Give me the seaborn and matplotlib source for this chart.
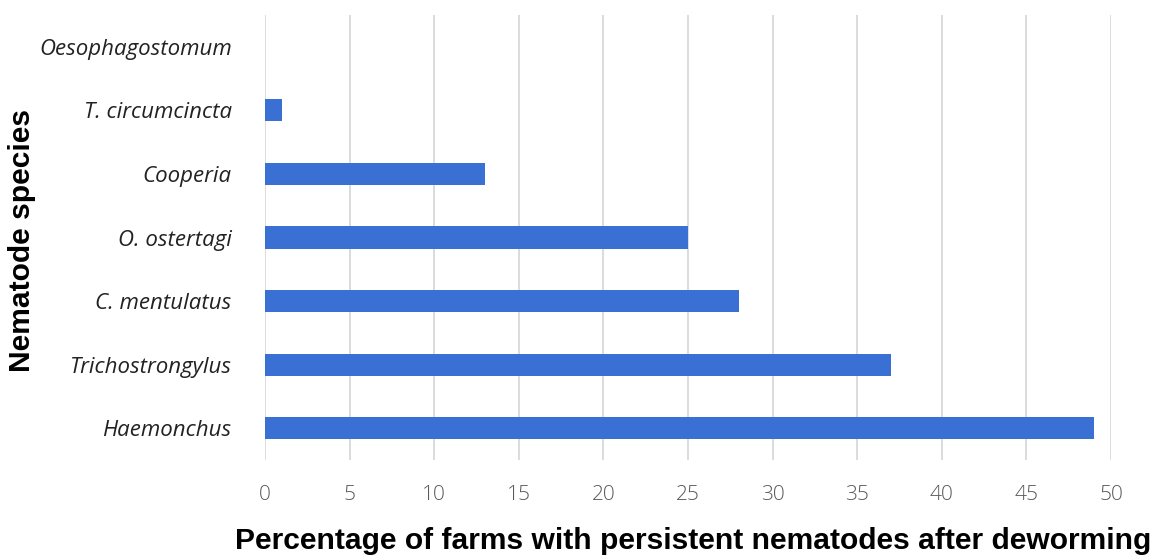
import matplotlib
matplotlib.use("Agg")
import matplotlib.pyplot as plt
import seaborn as sns
import pandas as pd

species = ["Oesophagostomum", "T. circumcincta", "Cooperia", "O. ostertagi",
           "C. mentulatus", "Trichostrongylus", "Haemonchus"]
percent = [0, 1, 13, 25, 28, 37, 49]
xticks = [0, 5, 10, 15, 20, 25, 30, 35, 40, 45, 50]

df = pd.DataFrame({"species": species, "percent": percent})

sns.set_theme(style="white")
fig = plt.figure(figsize=(11.53, 5.55), dpi=100)
ax = fig.add_axes([265/1153, 95/555, (1111-265)/1153, 445/555])

sns.barplot(data=df, x="percent", y="species", order=species, color="#3a6fd3",
            width=0.35, saturation=1, ax=ax, linewidth=0)

ax.set_xlim(0, 50)
ax.set_ylim(6.5, -0.5)
ax.set_xticks(xticks)
ax.set_xticklabels([str(t) for t in xticks], fontsize=15, color="#595959",
                   family="Open Sans", fontweight="light")
ax.set_yticklabels(species, fontsize=16, style="italic", family="Open Sans",
                   color="#222222")
ax.tick_params(axis="x", length=0, pad=18)
ax.tick_params(axis="y", length=0, pad=24)
ax.grid(axis="x", color="#d9d9d9", linewidth=1.3)
ax.set_axisbelow(True)
for s in ax.spines.values():
    s.set_visible(False)

ax.set_xlabel("Percentage of farms with persistent nematodes after deworming",
              fontsize=21.6, fontweight="bold", family="Liberation Sans",
              color="black")
ax.xaxis.set_label_coords((693 - 265) / 846, (460 - 541) / 445)
ax.xaxis.label.set_va("center")
ax.set_ylabel("Nematode species", fontsize=21.6, fontweight="bold",
              family="Liberation Sans", color="black")
ax.yaxis.set_label_coords((22 - 265) / 846, (460 - 240) / 445)
ax.yaxis.label.set_va("center")
fig.savefig("out.png", dpi=100)
